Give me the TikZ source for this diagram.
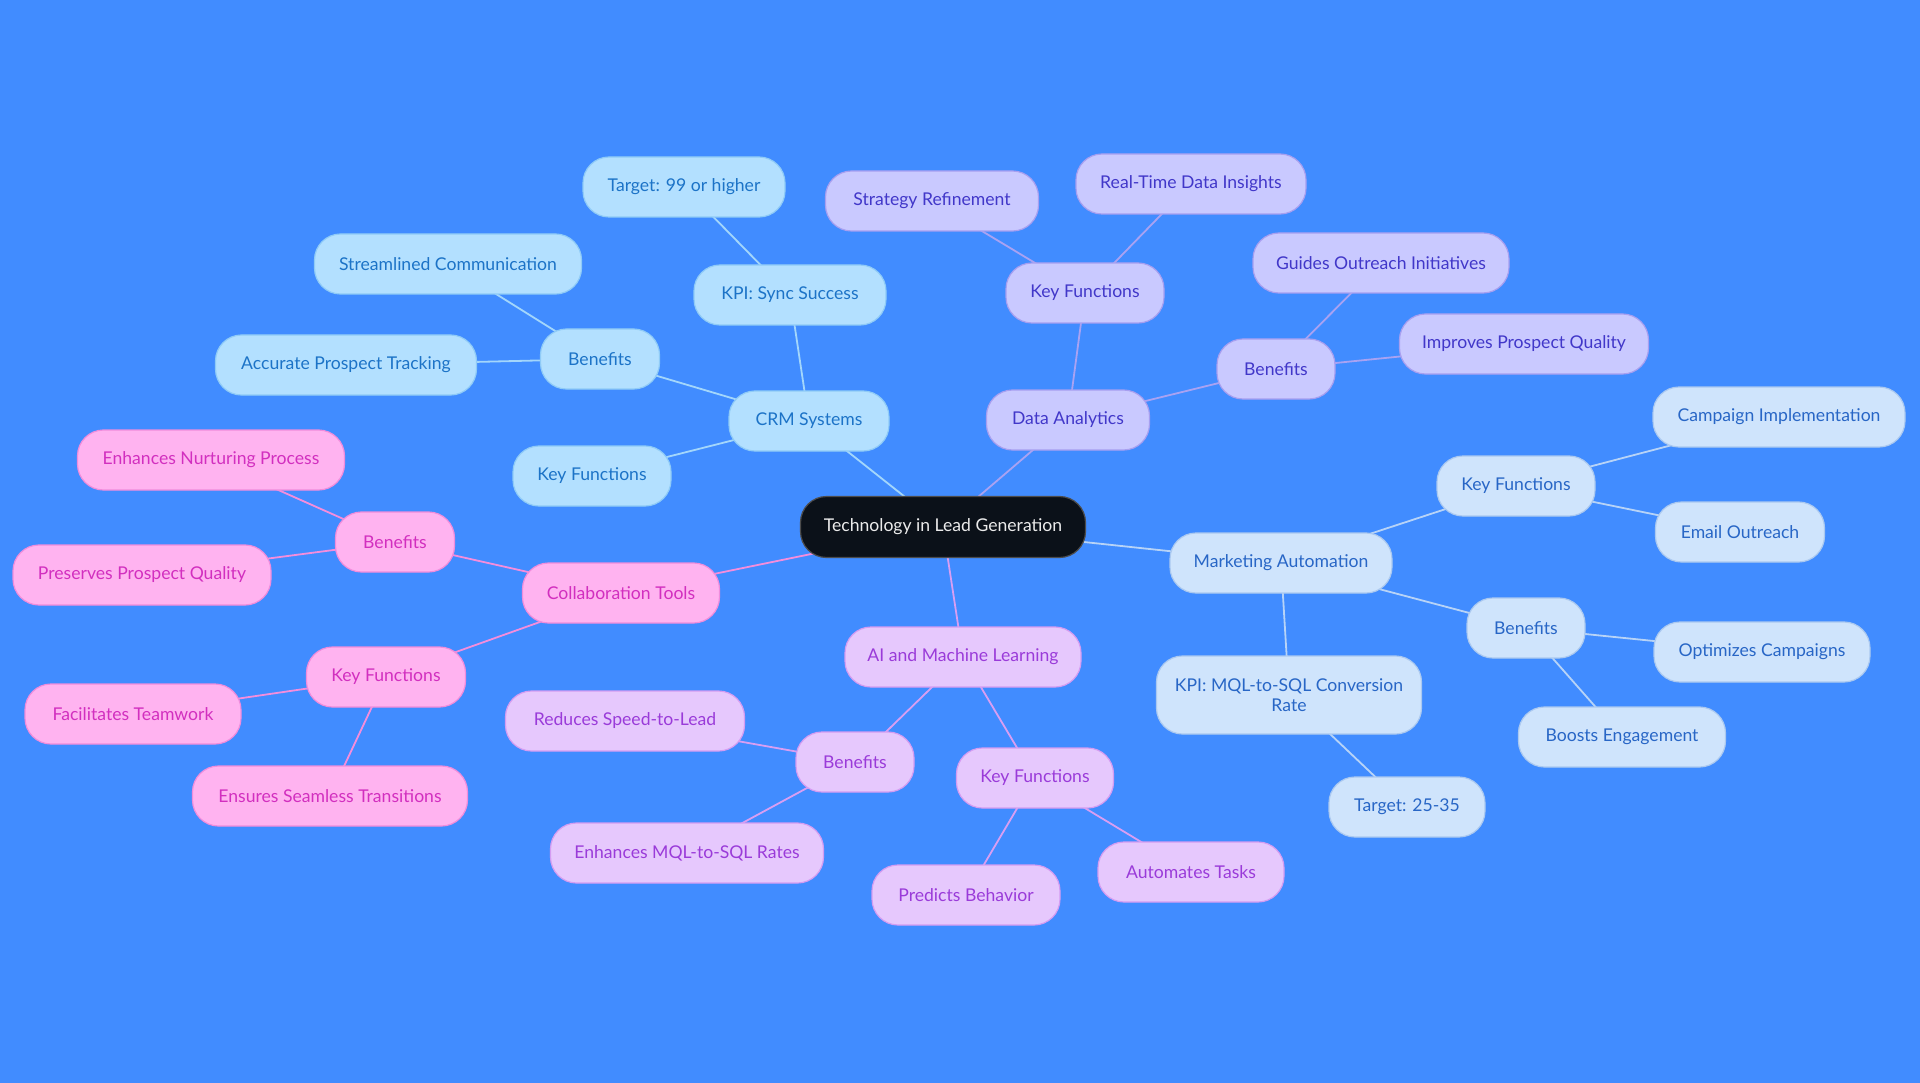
\documentclass[tikz,border=0pt]{standalone}
\usepackage{fontspec}
\setmainfont{Lato}
\usetikzlibrary{backgrounds}
\definecolor{bgc}{HTML}{418CFF}
\definecolor{rootfill}{HTML}{0B1119}
\definecolor{crmfill}{HTML}{B3E0FF}
\definecolor{crmdraw}{HTML}{8FCBF7}
\definecolor{crmtext}{HTML}{1C73C7}
\definecolor{crmedge}{HTML}{A3D6FB}
\definecolor{dafill}{HTML}{C9C9FF}
\definecolor{dadraw}{HTML}{A79FF0}
\definecolor{datext}{HTML}{4137C9}
\definecolor{daedge}{HTML}{A9A2F2}
\definecolor{mafill}{HTML}{CFE4FC}
\definecolor{madraw}{HTML}{ABC9F0}
\definecolor{matext}{HTML}{2866C6}
\definecolor{maedge}{HTML}{B7D3F7}
\definecolor{aifill}{HTML}{E6C8FD}
\definecolor{aidraw}{HTML}{D49CF2}
\definecolor{aitext}{HTML}{9A3BD9}
\definecolor{aiedge}{HTML}{D89EF2}
\definecolor{cofill}{HTML}{FFB3F0}
\definecolor{codraw}{HTML}{F08CDC}
\definecolor{cotext}{HTML}{D22FBF}
\definecolor{coedge}{HTML}{F48DDC}
\pgfdeclarelayer{back}
\pgfdeclarelayer{edges}
\pgfsetlayers{back,edges,main}
\begin{document}
\begin{tikzpicture}[x=1pt,y=-1pt,
  mm/.style={rectangle, rounded corners=26pt, minimum height=60pt, line width=1.2pt, inner sep=0pt, align=center, font=\fontsize{17.6}{19.5}\selectfont},
  rootbox/.style={mm, fill=rootfill, draw=black!70, text=white!92!black, minimum height=61pt},
  crmbox/.style={mm, fill=crmfill, draw=crmdraw, text=crmtext},
  dabox/.style={mm, fill=dafill, draw=dadraw, text=datext},
  mabox/.style={mm, fill=mafill, draw=madraw, text=matext},
  aibox/.style={mm, fill=aifill, draw=aidraw, text=aitext},
  cobox/.style={mm, fill=cofill, draw=codraw, text=cotext},
  crml/.style={draw=crmedge, line width=1.8pt},
  dal/.style={draw=daedge, line width=1.8pt},
  mal/.style={draw=maedge, line width=1.8pt},
  ail/.style={draw=aiedge, line width=1.8pt},
  col/.style={draw=coedge, line width=1.8pt}]
\begin{pgfonlayer}{back}
\fill[bgc] (0,0) rectangle (1920,1083);
\end{pgfonlayer}
\useasboundingbox (0,0) rectangle (1920,1083);
% root
\node[rootbox, minimum width=285pt] (root) at (943,527) {Technology in Lead Generation};
% CRM
\node[crmbox, minimum width=160pt] (crm) at (809,421) {CRM Systems};
\node[crmbox, minimum width=192pt] (crmkpi) at (790,295) {KPI: Sync Success};
\node[crmbox, minimum width=202pt] (crmtarget) at (684,187) {Target: 99 or higher};
\node[crmbox, minimum width=119pt] (crmben) at (600,359) {Benefits};
\node[crmbox, minimum width=267pt] (streamlined) at (448,264) {Streamlined Communication};
\node[crmbox, minimum width=261pt] (accurate) at (346,365) {Accurate Prospect Tracking};
\node[crmbox, minimum width=158pt] (crmkey) at (592,476) {Key Functions};
% Data analytics
\node[dabox, minimum width=163pt] (da) at (1068,420) {Data Analytics};
\node[dabox, minimum width=158pt] (dakey) at (1085,293) {Key Functions};
\node[dabox, minimum width=213pt] (strategy) at (932,201) {Strategy Refinement};
\node[dabox, minimum width=230pt] (realtime) at (1191,184) {Real-Time Data Insights};
\node[dabox, minimum width=118pt] (daben) at (1276,369) {Benefits};
\node[dabox, minimum width=256pt] (guides) at (1381,263) {Guides Outreach Initiatives};
\node[dabox, minimum width=249pt] (improves) at (1524,344) {Improves Prospect Quality};
% Marketing automation
\node[mabox, minimum width=222pt] (ma) at (1281,563) {Marketing Automation};
\node[mabox, minimum width=158pt] (makey) at (1516,486) {Key Functions};
\node[mabox, minimum width=252pt] (campaign) at (1779,417) {Campaign Implementation};
\node[mabox, minimum width=169pt] (email) at (1740,532) {Email Outreach};
\node[mabox, minimum width=118pt] (maben) at (1526,628) {Benefits};
\node[mabox, minimum width=216pt] (optimizes) at (1762,652) {Optimizes Campaigns};
\node[mabox, minimum width=207pt] (boosts) at (1622,737) {Boosts Engagement};
\node[mabox, minimum width=265pt, minimum height=78pt] (makpi) at (1289,695) {KPI: MQL-to-SQL Conversion\\Rate};
\node[mabox, minimum width=156pt] (matarget) at (1407,807) {Target: 25-35};
% AI
\node[aibox, minimum width=236pt] (ai) at (963,657) {AI and Machine Learning};
\node[aibox, minimum width=118pt] (aiben) at (855,762) {Benefits};
\node[aibox, minimum width=239pt] (reduces) at (625,721) {Reduces Speed-to-Lead};
\node[aibox, minimum width=273pt] (enhmql) at (687,853) {Enhances MQL-to-SQL Rates};
\node[aibox, minimum width=157pt] (aikey) at (1035,778) {Key Functions};
\node[aibox, minimum width=188pt] (predicts) at (966,895) {Predicts Behavior};
\node[aibox, minimum width=186pt] (automates) at (1191,872) {Automates Tasks};
% Collaboration
\node[cobox, minimum width=197pt] (co) at (621,593) {Collaboration Tools};
\node[cobox, minimum width=119pt] (coben) at (395,542) {Benefits};
\node[cobox, minimum width=267pt] (nurturing) at (211,460) {Enhances Nurturing Process};
\node[cobox, minimum width=258pt] (preserves) at (142,575) {Preserves Prospect Quality};
\node[cobox, minimum width=159pt] (cokey) at (386,677) {Key Functions};
\node[cobox, minimum width=216pt] (teamwork) at (133,714) {Facilitates Teamwork};
\node[cobox, minimum width=275pt] (seamless) at (330,796) {Ensures Seamless Transitions};
% edges
\begin{pgfonlayer}{edges}
\draw[crml] (root.center) -- (crm.center);
\draw[crml] (crm.center) -- (crmkpi.center);
\draw[crml] (crmkpi.center) -- (crmtarget.center);
\draw[crml] (crm.center) -- (crmben.center);
\draw[crml] (crmben.center) -- (streamlined.center);
\draw[crml] (crmben.center) -- (accurate.center);
\draw[crml] (crm.center) -- (crmkey.center);
\draw[dal] (root.center) -- (da.center);
\draw[dal] (da.center) -- (dakey.center);
\draw[dal] (dakey.center) -- (strategy.center);
\draw[dal] (dakey.center) -- (realtime.center);
\draw[dal] (da.center) -- (daben.center);
\draw[dal] (daben.center) -- (guides.center);
\draw[dal] (daben.center) -- (improves.center);
\draw[mal] (root.center) -- (ma.center);
\draw[mal] (ma.center) -- (makey.center);
\draw[mal] (makey.center) -- (campaign.center);
\draw[mal] (makey.center) -- (email.center);
\draw[mal] (ma.center) -- (maben.center);
\draw[mal] (maben.center) -- (optimizes.center);
\draw[mal] (maben.center) -- (boosts.center);
\draw[mal] (ma.center) -- (makpi.center);
\draw[mal] (makpi.center) -- (matarget.center);
\draw[ail] (root.center) -- (ai.center);
\draw[ail] (ai.center) -- (aiben.center);
\draw[ail] (aiben.center) -- (reduces.center);
\draw[ail] (aiben.center) -- (enhmql.center);
\draw[ail] (ai.center) -- (aikey.center);
\draw[ail] (aikey.center) -- (predicts.center);
\draw[ail] (aikey.center) -- (automates.center);
\draw[col] (root.center) -- (co.center);
\draw[col] (co.center) -- (coben.center);
\draw[col] (coben.center) -- (nurturing.center);
\draw[col] (coben.center) -- (preserves.center);
\draw[col] (co.center) -- (cokey.center);
\draw[col] (cokey.center) -- (teamwork.center);
\draw[col] (cokey.center) -- (seamless.center);
\end{pgfonlayer}
\end{tikzpicture}
\end{document}
